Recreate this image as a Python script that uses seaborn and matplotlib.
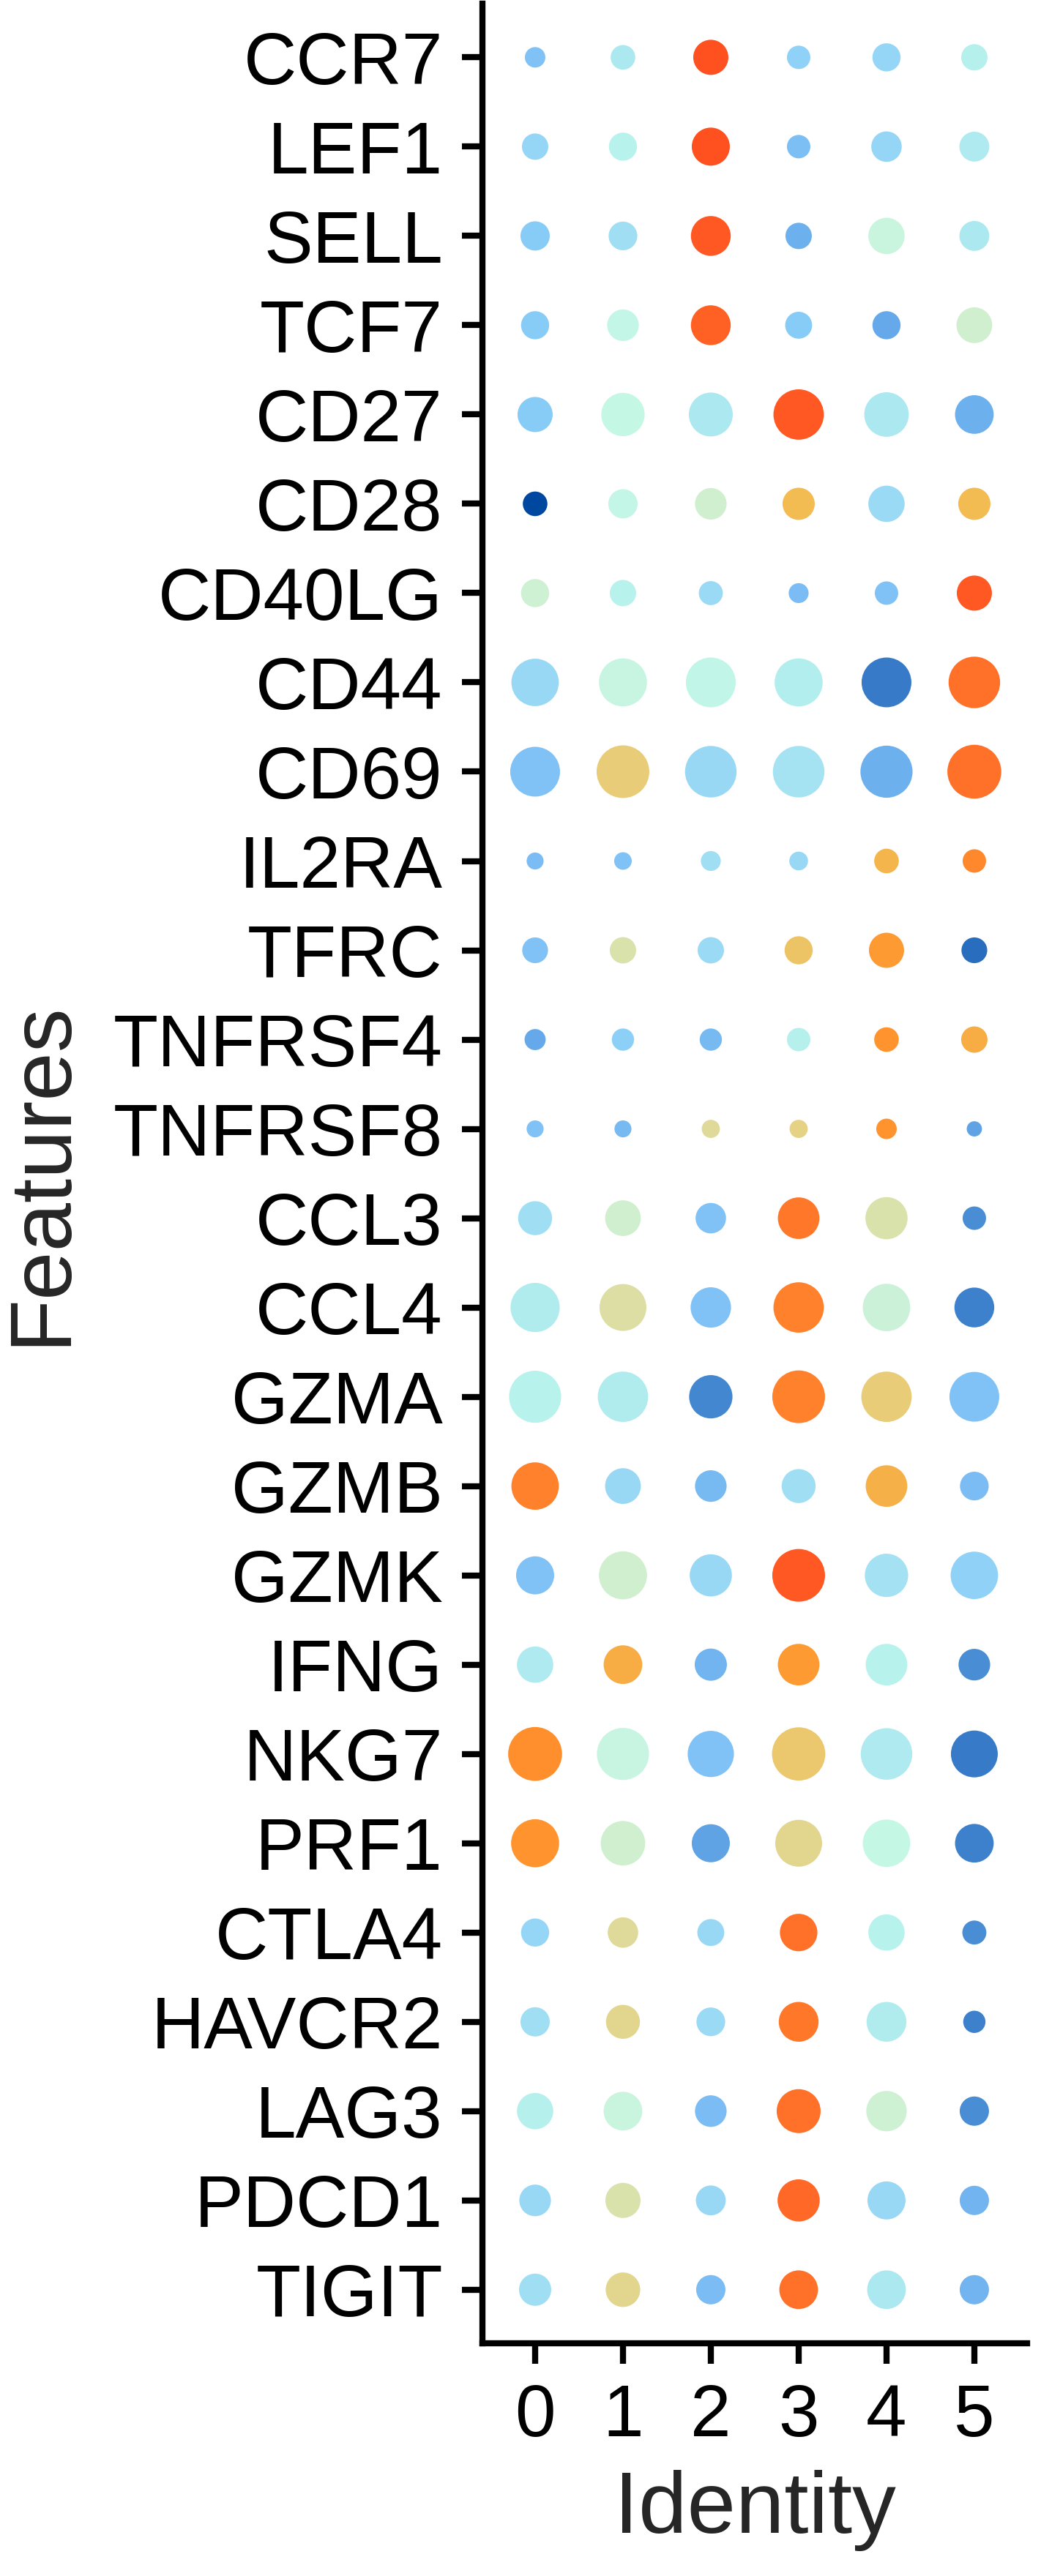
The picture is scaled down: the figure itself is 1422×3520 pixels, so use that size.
import numpy as np
import pandas as pd
import matplotlib
matplotlib.use("Agg")
import matplotlib.pyplot as plt
from matplotlib.colors import LinearSegmentedColormap
import seaborn as sns

# Genes (top -> bottom) and cluster identities
features = ['CCR7', 'LEF1', 'SELL', 'TCF7', 'CD27', 'CD28', 'CD40LG', 'CD44', 'CD69',
            'IL2RA', 'TFRC', 'TNFRSF4', 'TNFRSF8', 'CCL3', 'CCL4', 'GZMA', 'GZMB',
            'GZMK', 'IFNG', 'NKG7', 'PRF1', 'CTLA4', 'HAVCR2', 'LAG3', 'PDCD1', 'TIGIT']
identities = [0, 1, 2, 3, 4, 5]

# percent expressed (rows = features, cols = identities 0..5)
pct_exp = [
    [35, 42, 60, 40, 48, 45],
    [45, 48, 65, 40, 52, 51],
    [50, 49, 68, 45, 62, 51],
    [48, 54, 68, 46, 48, 61],
    [60, 74, 75, 86, 76, 66],
    [42, 50, 54, 55, 62, 55],
    [48, 45, 41, 34, 40, 60],
    [81, 82, 85, 82, 85, 88],
    [85, 90, 88, 88, 89, 92],
    [29, 30, 34, 32, 42, 40],
    [44, 45, 45, 48, 60, 44],
    [36, 38, 38, 40, 42, 45],
    [29, 29, 31, 31, 35, 26],
    [58, 61, 52, 71, 72, 40],
    [84, 80, 69, 86, 81, 68],
    [89, 86, 74, 90, 86, 85],
    [81, 61, 54, 58, 71, 49],
    [65, 82, 72, 90, 74, 81],
    [62, 66, 55, 71, 71, 54],
    [92, 89, 79, 91, 88, 80],
    [82, 76, 65, 80, 81, 66],
    [48, 52, 46, 64, 62, 41],
    [50, 58, 49, 68, 68, 38],
    [62, 66, 54, 75, 69, 50],
    [54, 60, 51, 72, 65, 50],
    [55, 59, 50, 66, 66, 50],
]

# average expression, scaled
avg_exp = [
    [-1.0, -0.2, 2.0, -0.7, -0.6, 0.0],
    [-0.6, 0.05, 2.0, -1.05, -0.6, -0.15],
    [-0.85, -0.4, 1.95, -1.3, 0.4, -0.2],
    [-0.85, 0.25, 1.9, -0.85, -1.4, 0.55],
    [-0.85, 0.3, -0.2, 1.95, -0.2, -1.3],
    [-2.0, 0.25, 0.55, 1.2, -0.5, 1.2],
    [0.5, 0.05, -0.5, -1.1, -1.0, 1.95],
    [-0.55, 0.35, 0.2, -0.05, -1.75, 1.8],
    [-1.0, 1.0, -0.55, -0.3, -1.3, 1.8],
    [-1.1, -1.0, -0.4, -0.55, 1.25, 1.65],
    [-1.0, 0.75, -0.5, 1.1, 1.5, -1.8],
    [-1.4, -0.75, -1.15, 0.0, 1.55, 1.35],
    [-1.0, -1.15, 0.85, 0.95, 1.55, -1.45],
    [-0.4, 0.55, -1.0, 1.75, 0.75, -1.6],
    [-0.1, 0.8, -1.0, 1.7, 0.45, -1.7],
    [0.05, -0.1, -1.65, 1.7, 1.0, -1.0],
    [1.7, -0.55, -1.15, -0.4, 1.3, -1.1],
    [-1.0, 0.55, -0.55, 1.95, -0.35, -0.7],
    [-0.15, 1.35, -1.25, 1.5, 0.05, -1.6],
    [1.6, 0.35, -1.0, 1.05, -0.15, -1.75],
    [1.55, 0.55, -1.45, 0.9, 0.3, -1.7],
    [-0.6, 0.85, -0.55, 1.8, 0.05, -1.6],
    [-0.4, 0.9, -0.5, 1.75, -0.1, -1.7],
    [0.0, 0.4, -1.1, 1.8, 0.5, -1.6],
    [-0.55, 0.75, -0.55, 1.85, -0.55, -1.25],
    [-0.4, 0.9, -1.1, 1.8, -0.2, -1.25],
]

# colour scale for scaled expression (-2 .. 2)
scale_vals = [-2.0, -1.75, -1.6, -1.4, -1.2, -1.0, -0.8, -0.55, -0.3, -0.1, 0.05,
              0.3, 0.55, 0.8, 1.0, 1.2, 1.4, 1.55, 1.75, 2.0]
scale_cols = ['#0047A0', '#377BC8', '#4A8ED6', '#66AAEA', '#74B7F0', '#80C2F6',
              '#8ACEF8', '#98D8F5', '#A6E3F2', '#B0ECEE', '#B8F2EC', '#C5F7E5',
              '#D0EFD0', '#DCDFA5', '#E8CD7A', '#F2BC52', '#F8A840', '#FF962E',
              '#FF7A2A', '#FF5020']
cmap = LinearSegmentedColormap.from_list(
    'dot', [((v + 2) / 4, c) for v, c in zip(scale_vals, scale_cols)])

# long table
rows = []
for i, g in enumerate(features):
    for j, ident in enumerate(identities):
        rows.append({'feature': g, 'fpos': i, 'id': ident,
                     'pct': pct_exp[i][j], 'avg': avg_exp[i][j]})
df = pd.DataFrame(rows)
# radius proportional to percent expressed -> marker area in pt^2
df['area'] = (df['pct'] * 0.576) ** 2

sns.set_style('ticks')
plt.rcParams['font.family'] = ['Liberation Sans', 'DejaVu Sans']

fig = plt.figure(figsize=(14.22, 35.2), dpi=100)
ax = fig.add_axes([0.4634, 0.09034, 0.5232, 0.9082])

amin, amax = df['area'].min(), df['area'].max()
sns.scatterplot(data=df, x='id', y='fpos', hue='avg', palette=cmap, hue_norm=(-2, 2),
                size='area', sizes=(amin, amax), size_norm=(amin, amax),
                linewidth=0, legend=False, ax=ax)

ax.set_xlim(-0.6, 5.6)
ax.set_ylim(25.6, -0.6)
ax.set_xticks(identities)
ax.set_xticklabels([str(k) for k in identities])
ax.set_yticks(range(len(features)))
ax.set_yticklabels(features)

sns.despine(ax=ax)
for side in ['left', 'bottom']:
    ax.spines[side].set_linewidth(6)
    ax.spines[side].set_color('black')
    ax.spines[side].set_capstyle('projecting')
ax.tick_params(axis='both', length=20, width=6, color='black', labelsize=72,
               pad=19, labelcolor='black')

ax.set_xlabel('Identity', fontsize=86, labelpad=18)
ax.set_ylabel('Features', fontsize=86, labelpad=30)

fig.savefig('out.png', dpi=100, facecolor='white')
